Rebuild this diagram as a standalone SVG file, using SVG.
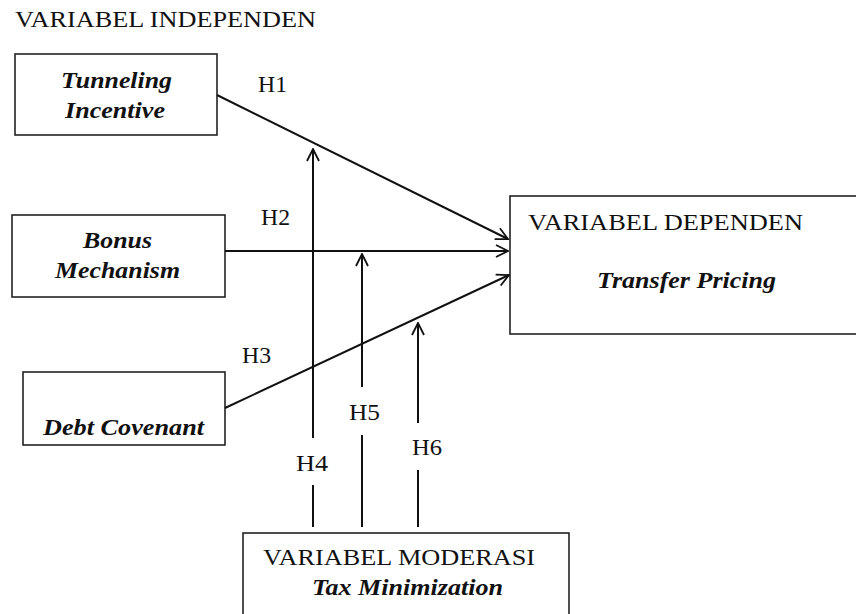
<svg xmlns="http://www.w3.org/2000/svg" width="856" height="614" viewBox="0 0 856 614">
<defs>
<style>
.box{fill:#fff;stroke:#222;stroke-width:1.6}
.t{font-family:"Liberation Serif","Times New Roman",serif;font-size:23px;fill:#111}
.bi{font-family:"Liberation Serif","Times New Roman",serif;font-size:24px;font-weight:bold;font-style:italic;fill:#111}
.ln{stroke:#111;stroke-width:2;fill:none}
</style>
<marker id="arr" viewBox="0 0 14 14" refX="13" refY="7" markerWidth="14" markerHeight="14" markerUnits="userSpaceOnUse" orient="auto">
<path d="M1,1 L13,7 L1,13" fill="none" stroke="#111" stroke-width="1.8"/>
</marker>
</defs>
<rect width="856" height="614" fill="#fff"/>
<text class="t" x="15" y="27" textLength="301" lengthAdjust="spacingAndGlyphs">VARIABEL INDEPENDEN</text>
<g id="tunneling">
<rect class="box" x="15" y="54" width="202" height="81"/>
<text class="bi" x="61" y="88" textLength="111" lengthAdjust="spacingAndGlyphs">Tunneling</text>
<text class="bi" x="65" y="118" textLength="100" lengthAdjust="spacingAndGlyphs">Incentive</text>
</g>
<g id="bonus">
<rect class="box" x="12" y="215" width="213" height="82"/>
<text class="bi" x="83" y="248" textLength="69" lengthAdjust="spacingAndGlyphs">Bonus</text>
<text class="bi" x="55" y="278" textLength="125" lengthAdjust="spacingAndGlyphs">Mechanism</text>
</g>
<g id="debt">
<rect class="box" x="23" y="372" width="202" height="73"/>
<text class="bi" x="43" y="435" textLength="161" lengthAdjust="spacingAndGlyphs">Debt Covenant</text>
</g>
<g id="dependen">
<rect class="box" x="510" y="196" width="360" height="138"/>
<text class="t" x="528" y="230" textLength="275" lengthAdjust="spacingAndGlyphs">VARIABEL DEPENDEN</text>
<text class="bi" x="597" y="288" textLength="179" lengthAdjust="spacingAndGlyphs">Transfer Pricing</text>
</g>
<g id="moderasi">
<rect class="box" x="243" y="533" width="326" height="90"/>
<text class="t" x="263" y="565" textLength="272" lengthAdjust="spacingAndGlyphs">VARIABEL MODERASI</text>
<text class="bi" x="312" y="595" textLength="191" lengthAdjust="spacingAndGlyphs">Tax Minimization</text>
</g>
<g id="connectors">
<line class="ln" x1="217" y1="95" x2="508" y2="239" marker-end="url(#arr)"/>
<line class="ln" x1="225" y1="251" x2="508" y2="251" marker-end="url(#arr)"/>
<line class="ln" x1="225" y1="408" x2="509" y2="275" marker-end="url(#arr)"/>
<line class="ln" x1="313" y1="438" x2="313" y2="149" marker-end="url(#arr)"/>
<line class="ln" x1="313" y1="485" x2="313" y2="527"/>
<line class="ln" x1="362" y1="387" x2="362" y2="254" marker-end="url(#arr)"/>
<line class="ln" x1="362" y1="435" x2="362" y2="527"/>
<line class="ln" x1="418" y1="423" x2="418" y2="323" marker-end="url(#arr)"/>
<line class="ln" x1="418" y1="470" x2="418" y2="527"/>
<text class="t" x="258" y="92" textLength="29" lengthAdjust="spacingAndGlyphs">H1</text>
<text class="t" x="261" y="225" textLength="29" lengthAdjust="spacingAndGlyphs">H2</text>
<text class="t" x="242" y="363" textLength="29" lengthAdjust="spacingAndGlyphs">H3</text>
<text class="t" x="296" y="471" textLength="32" lengthAdjust="spacingAndGlyphs">H4</text>
<text class="t" x="349" y="420" textLength="31" lengthAdjust="spacingAndGlyphs">H5</text>
<text class="t" x="412" y="455" textLength="30" lengthAdjust="spacingAndGlyphs">H6</text>
</g>
</svg>
